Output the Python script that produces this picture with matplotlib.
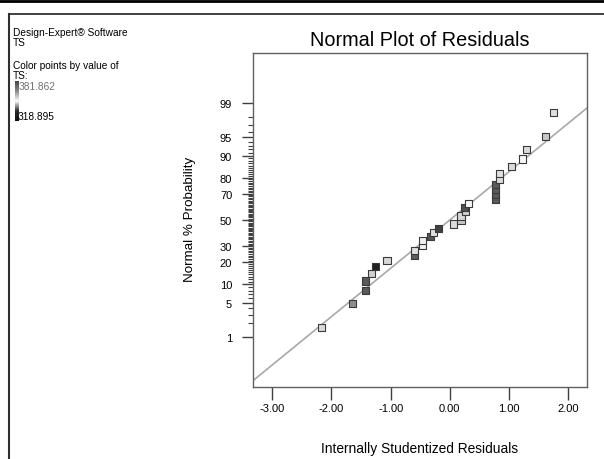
import numpy as np
import matplotlib
matplotlib.use('Agg')
import matplotlib.pyplot as plt
from matplotlib.lines import Line2D
from matplotlib.colors import LinearSegmentedColormap
from statistics import NormalDist

# residuals in rank order, with the normal % probability each one is plotted at
residuals = [-2.17, -1.64, -1.42, -1.42, -1.32, -1.25, -1.06, -0.60, -0.60, -0.46,
             -0.46, -0.32, -0.28, -0.19, 0.06, 0.19, 0.19, 0.26, 0.25, 0.31,
             0.77, 0.77, 0.77, 0.77, 0.84, 0.84, 1.04, 1.23, 1.30, 1.62, 1.76]
prob_pct = [1.6, 4.8, 8.1, 11.3, 14.5, 17.7, 21.0, 24.2, 27.4, 30.6,
            33.9, 37.1, 40.3, 43.5, 46.8, 50.0, 53.2, 56.5, 59.7, 62.9,
            66.1, 69.4, 72.6, 75.8, 79.0, 82.3, 85.5, 88.7, 91.9, 95.2, 98.4]
# TS value of each run (sets the grey fill)
ts_value = [373, 354, 341, 341, 370, 327, 372, 342, 374, 378,
            378, 340, 374, 335, 373, 368, 372, 370, 339, 380,
            341, 341, 341, 341, 373, 374, 373, 380, 373, 368, 374]
ts_min, ts_max = 318.895, 381.862

prob_ticks = [1, 5, 10, 20, 30, 50, 70, 80, 90, 95, 99]
x_ticks = [-3, -2, -1, 0, 1, 2]
fit_slope, fit_icpt = 0.96, 0.0

nd = NormalDist()
_ppf = np.vectorize(nd.inv_cdf, otypes=[float])
_cdf = np.vectorize(nd.cdf, otypes=[float])

def to_z(p):
    p = np.clip(np.asarray(p, dtype=float) / 100.0, 1e-9, 1 - 1e-9)
    return _ppf(p)

def from_z(z):
    return 100.0 * _cdf(np.asarray(z, dtype=float))

plt.rcParams['font.family'] = ['Liberation Sans', 'DejaVu Sans']

W, H = 604, 460
fig = plt.figure(figsize=(W / 100, H / 100), dpi=100)
ax = fig.add_axes([253 / W, 1 - 388 / H, (587 - 253) / W, (388 - 54) / H])
ax.set_yscale('function', functions=(to_z, from_z))

ax.set_xlim(-3.327, 2.32)
ax.set_ylim(from_z(-3.32), from_z(3.32))

# fit line
xs = np.array(ax.get_xlim())
ax.plot(xs, from_z(fit_slope * xs + fit_icpt), color='#a8a8a8', lw=1.2, zorder=1)

ax.scatter(residuals, prob_pct, c=ts_value, cmap='gray', vmin=ts_min, vmax=ts_max,
           marker='s', s=27, edgecolors='#3a3a3a', linewidths=0.8, zorder=3)

ax.set_xticks(x_ticks)
ax.set_xticklabels(['%.2f' % v for v in x_ticks])
ax.set_yticks(prob_ticks)
ax.set_yticklabels([str(v) for v in prob_ticks])
ax.set_yticks([p for p in range(1, 100) if p not in prob_ticks], minor=True)
ax.tick_params(axis='x', direction='out', length=9, width=1, color='#404040',
               labelsize=8, pad=2.5)
ax.tick_params(axis='y', which='major', direction='out', length=8, width=1,
               color='#404040', labelsize=8, pad=7)
ax.tick_params(axis='y', which='minor', direction='out', length=3.5, width=0.8,
               color='#404040')
for s in ax.spines.values():
    s.set_color('#606060')
    s.set_linewidth(1)

fig.text(420 / W, 1 - 41 / H, 'Normal Plot of Residuals', fontsize=14.3,
         ha='center', va='center')
fig.text(190 / W, 1 - 219 / H, 'Normal % Probability', fontsize=9.6,
         rotation=90, ha='center', va='center')
fig.text(420 / W, 1 - 449 / H, 'Internally Studentized Residuals', fontsize=9.9,
         ha='center', va='center')

# side panel text
fig.text(13 / W, 1 - 33 / H, 'Design-Expert® Software', fontsize=7.3, va='center')
fig.text(13 / W, 1 - 42.5 / H, 'TS', fontsize=7.3, va='center')
fig.text(13 / W, 1 - 66 / H, 'Color points by value of', fontsize=7.3, va='center')
fig.text(13 / W, 1 - 76 / H, 'TS:', fontsize=7.3, va='center')
fig.text(19 / W, 1 - 87 / H, '%.3f' % ts_max, fontsize=7.3, va='center', color='#707070')
fig.text(18 / W, 1 - 117 / H, '%.3f' % ts_min, fontsize=7.3, va='center')

cax = fig.add_axes([15 / W, 1 - 122 / H, 4 / W, 40 / H])
bar_cmap = LinearSegmentedColormap.from_list(
    'bar', ['#111111', '#2a2a2a', '#ffffff', '#8a8a8a', '#444444'])
cax.imshow(np.linspace(0, 1, 64).reshape(-1, 1), cmap=bar_cmap, aspect='auto',
           origin='lower')
cax.axis('off')

# window frame lines
fig.add_artist(Line2D([0, 1], [1 - 1.5 / H] * 2, transform=fig.transFigure,
                      color='black', lw=2))
fig.add_artist(Line2D([8.5 / W, 1], [1 - 15 / H] * 2, transform=fig.transFigure,
                      color='#202020', lw=1.2))
fig.add_artist(Line2D([8.5 / W] * 2, [0, 1 - 15 / H], transform=fig.transFigure,
                      color='#303030', lw=1.5))

fig.savefig('out.png', dpi=100)
